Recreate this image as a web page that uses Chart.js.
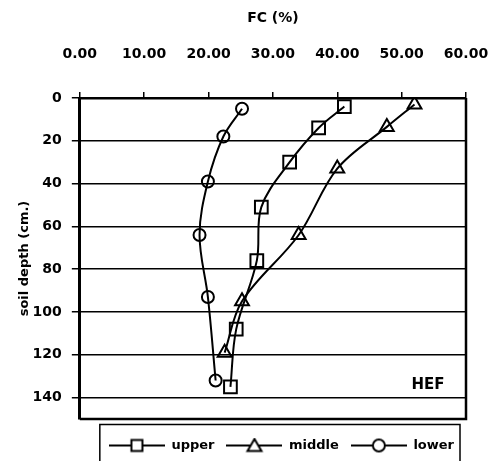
<!DOCTYPE html>
<html lang="en">
<head>
<meta charset="UTF-8">
<title>FC by soil depth</title>
<script src="https://cdn.jsdelivr.net/npm/chart.js@4.4.0/dist/chart.umd.min.js"></script>
<style>
    html, body { margin: 0; padding: 0; background: #fff; }
    #wrap { width: 497px; height: 461px; }
</style>
</head>
<body>
<div id="wrap"><canvas id="myChart"></canvas></div>
<script>
    // values: FC (%) against soil depth (cm.)
    const seriesNames = ['upper', 'middle', 'lower'];
    const upperFC = [41.1, 37.1, 32.6, 28.2, 27.5, 24.3, 23.4];
    const upperDepth = [4, 14, 30, 51, 76, 108, 135];
    const middleFC = [52.0, 47.7, 40.0, 34.0, 25.2, 22.5];
    const middleDepth = [3, 13.5, 33, 64, 95, 119];
    const lowerFC = [25.2, 22.3, 19.9, 18.6, 19.9, 21.1];
    const lowerDepth = [5, 18, 39, 64, 93, 132];
    const fcTicks = [0, 10, 20, 30, 40, 50, 60];
    const depthTicks = [0, 20, 40, 60, 80, 100, 120, 140];
    const siteLabel = 'HEF';

    const font = 'DejaVu Sans';
    const pointStyles = ['rect', 'triangle', 'circle'];
    const pointSizes = [9, 8, 6];

    function toPoints(xs, ys) {
        return xs.map((v, i) => ({ x: v, y: ys[i] }));
    }

    // small canvas used as legend symbol: line with the marker on it
    function legendSymbol(style) {
        const c = document.createElement('canvas');
        c.width = 56;
        c.height = 16;
        const g = c.getContext('2d');
        g.strokeStyle = '#000';
        g.lineWidth = 2;
        g.beginPath();
        g.moveTo(0, 8);
        g.lineTo(56, 8);
        g.stroke();
        g.fillStyle = '#fff';
        g.beginPath();
        if (style === 'rect') {
            g.rect(22.5, 2.5, 11, 11);
        } else if (style === 'triangle') {
            g.moveTo(28, 1.5);
            g.lineTo(35, 13.5);
            g.lineTo(21, 13.5);
            g.closePath();
        } else {
            g.arc(28, 8, 6, 0, Math.PI * 2);
        }
        g.fill();
        g.stroke();
        return c;
    }
    const symbols = pointStyles.map(legendSymbol);

    const framePlugin = {
        id: 'frame',
        afterLayout(chart) {
            // push legend row down a little, as in the figure
            chart.legend.top += 8;
            chart.legend.bottom += 8;
        },
        afterDraw(chart) {
            const { ctx, chartArea: a, scales } = chart;
            ctx.save();
            ctx.strokeStyle = '#000';
            ctx.lineWidth = 2.5;
            ctx.beginPath();
            ctx.moveTo(a.right, a.top);
            ctx.lineTo(a.right, a.bottom);
            ctx.lineTo(a.left, a.bottom);
            ctx.stroke();

            // legend frame
            ctx.lineWidth = 1.5;
            ctx.strokeRect(a.left + 20, a.bottom + 5.5, a.right - a.left - 26, 60);

            ctx.fillStyle = '#000';
            ctx.font = 'bold 15px "' + font + '"';
            ctx.textAlign = 'center';
            ctx.textBaseline = 'middle';
            ctx.fillText(siteLabel, scales.x.getPixelForValue(54.1), scales.y.getPixelForValue(134));
            ctx.restore();
        }
    };

    const ctx = document.getElementById('myChart').getContext('2d');
    const chart = new Chart(ctx, {
        type: 'scatter',
        data: {
            datasets: [
                { label: seriesNames[0], data: toPoints(upperFC, upperDepth) },
                { label: seriesNames[1], data: toPoints(middleFC, middleDepth) },
                { label: seriesNames[2], data: toPoints(lowerFC, lowerDepth) }
            ].map((d, i) => Object.assign(d, {
                showLine: true,
                tension: 0.35,
                borderColor: '#000',
                borderWidth: 2,
                backgroundColor: 'rgba(0,0,0,0)',
                pointStyle: pointStyles[i],
                pointRadius: pointSizes[i],
                pointBorderWidth: 2,
                pointBorderColor: '#000',
                pointBackgroundColor: 'rgba(0,0,0,0)'
            }))
        },
        options: {
            responsive: true,
            maintainAspectRatio: false,
            animation: false,
            layout: { padding: { left: 9, right: 31, top: 0, bottom: 7 } },
            plugins: {
                legend: {
                    position: 'bottom',
                    align: 'end',
                    fullSize: false,
                    labels: {
                        usePointStyle: true,
                        pointStyleWidth: 56,
                        padding: 12,
                        color: '#000',
                        font: { family: font, size: 13, weight: 'bold' },
                        generateLabels: (ch) => ch.data.datasets.map((d, i) => ({
                            text: d.label,
                            pointStyle: symbols[i],
                            fillStyle: '#fff',
                            strokeStyle: '#000',
                            lineWidth: 0,
                            hidden: false,
                            datasetIndex: i
                        }))
                    }
                },
                tooltip: { enabled: false }
            },
            scales: {
                x: {
                    type: 'linear',
                    position: 'top',
                    min: fcTicks[0],
                    max: fcTicks[fcTicks.length - 1],
                    afterBuildTicks: (axis) => { axis.ticks = fcTicks.map(v => ({ value: v })); },
                    afterFit: (axis) => {
                        axis.height = 98;
                        axis.paddingLeft = 0;
                        axis.paddingRight = 0;
                    },
                    ticks: {
                        padding: 29,
                        maxRotation: 0,
                        minRotation: 0,
                        color: '#000',
                        font: { family: font, size: 14, weight: 'bold' },
                        callback: (v) => Number(v).toFixed(2)
                    },
                    grid: { drawOnChartArea: false, tickLength: 6, color: '#000', lineWidth: 1.5 },
                    border: { color: '#000', width: 2.5 },
                    title: {
                        display: true,
                        text: 'FC (%)',
                        color: '#000',
                        font: { family: font, size: 14, weight: 'bold' },
                        padding: { top: 10, bottom: 19 }
                    }
                },
                y: {
                    type: 'linear',
                    reverse: true,
                    min: 0,
                    max: 150,
                    afterBuildTicks: (axis) => { axis.ticks = depthTicks.map(v => ({ value: v })); },
                    ticks: {
                        padding: 10,
                        color: '#000',
                        font: { family: font, size: 14, weight: 'bold' }
                    },
                    grid: {
                        color: (c) => (c.tick && c.tick.value === 0) ? 'rgba(0,0,0,0)' : '#000',
                        tickColor: '#000',
                        lineWidth: 1.5,
                        tickLength: 8
                    },
                    border: { color: '#000', width: 3 },
                    title: {
                        display: true,
                        text: 'soil depth (cm.)',
                        color: '#000',
                        font: { family: font, size: 13, weight: 'bold' },
                        padding: { top: 8, bottom: -10 }
                    }
                }
            }
        },
        plugins: [framePlugin]
    });
</script>
</body>
</html>
